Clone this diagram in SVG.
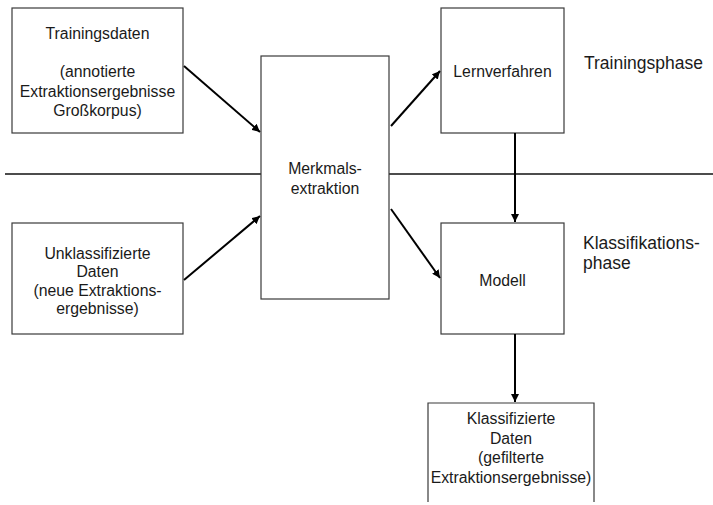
<svg xmlns="http://www.w3.org/2000/svg" width="713" height="505" viewBox="0 0 713 505">
  <style>
    .box { fill: #ffffff; stroke: #3a3a3a; stroke-width: 1.2; }
    .lbl { font-family: "Liberation Sans", Arial, sans-serif; font-size: 15.8px; fill: #1a1a1a; text-anchor: middle; dominant-baseline: central; }
    .phase { font-family: "Liberation Sans", Arial, sans-serif; font-size: 17.5px; fill: #1a1a1a; dominant-baseline: central; }
    .conn { stroke: #000000; stroke-width: 2; fill: none; marker-end: url(#arrow); }
    .divider { stroke: #111111; stroke-width: 1.4; }
  </style>
  <defs>
    <marker id="arrow" viewBox="0 0 10 10" refX="10" refY="5" markerWidth="4" markerHeight="4" orient="auto" markerUnits="strokeWidth">
      <path d="M0,0 L10,5 L0,10 z" fill="#000000"/>
    </marker>
  </defs>

  <rect width="713" height="505" fill="#ffffff"/>

  <!-- phase divider -->
  <line class="divider" x1="5" y1="174" x2="713" y2="174"/>

  <!-- phase labels -->
  <text class="phase" x="584" y="63">Trainingsphase</text>
  <text class="phase" x="583" y="243">Klassifikations-</text>
  <text class="phase" x="583" y="263">phase</text>

  <g id="trainingsdaten">
    <rect class="box" x="12" y="8" width="171" height="125"/>
    <text class="lbl" x="97.5" y="33">Trainingsdaten</text>
    <text class="lbl" x="97.5" y="71">(annotierte</text>
    <text class="lbl" x="97.5" y="91">Extraktionsergebnisse</text>
    <text class="lbl" x="97.5" y="110">Großkorpus)</text>
  </g>

  <g id="unklassifiziert">
    <rect class="box" x="12" y="223" width="171" height="111"/>
    <text class="lbl" x="97.5" y="253">Unklassifizierte</text>
    <text class="lbl" x="97.5" y="271.5">Daten</text>
    <text class="lbl" x="97.5" y="290">(neue Extraktions-</text>
    <text class="lbl" x="97.5" y="308.5">ergebnisse)</text>
  </g>

  <g id="merkmalsextraktion">
    <rect class="box" x="261" y="56" width="128" height="243"/>
    <text class="lbl" x="325" y="168">Merkmals-</text>
    <text class="lbl" x="325" y="188">extraktion</text>
  </g>

  <g id="lernverfahren">
    <rect class="box" x="441" y="8" width="123" height="125"/>
    <text class="lbl" x="502.5" y="71">Lernverfahren</text>
  </g>

  <g id="modell">
    <rect class="box" x="441" y="223" width="123" height="111"/>
    <text class="lbl" x="502.5" y="280">Modell</text>
  </g>

  <g id="klassifiziert">
    <path class="box" d="M428,502 V403 H594 V502"/>
    <text class="lbl" x="511" y="418">Klassifizierte</text>
    <text class="lbl" x="511" y="438">Daten</text>
    <text class="lbl" x="511" y="457">(gefilterte</text>
    <text class="lbl" x="511" y="477">Extraktionsergebnisse)</text>
  </g>

  <g id="connectors">
    <line class="conn" x1="184" y1="66" x2="260" y2="132"/>
    <line class="conn" x1="184" y1="280" x2="260" y2="216"/>
    <line class="conn" x1="391" y1="126" x2="440" y2="71"/>
    <line class="conn" x1="391" y1="209" x2="440" y2="278"/>
    <line class="conn" x1="515" y1="133" x2="515" y2="222"/>
    <line class="conn" x1="515" y1="334" x2="515" y2="402"/>
  </g>
</svg>
